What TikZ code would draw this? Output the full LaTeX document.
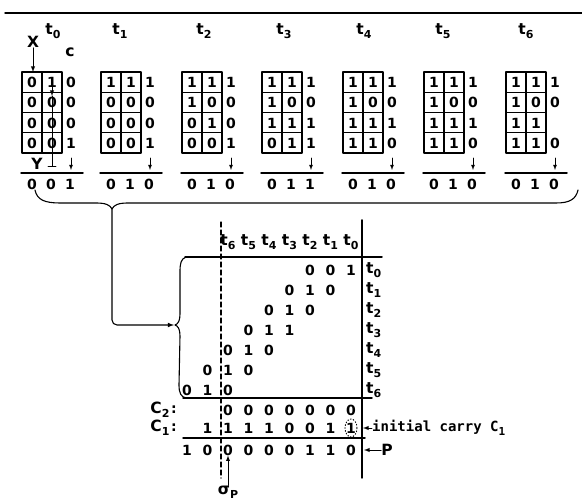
\documentclass[tikz,border=0pt]{standalone}
\usepackage{fontspec}
\setmainfont{DejaVu Sans}
\newfontfamily\monofont{DejaVu Sans Mono}
\newcommand\lowsub[1]{\raisebox{-.5ex}{\fontsize{11}{11}\selectfont #1}}

\tikzset{
  bit/.style={inner sep=0pt,font=\bfseries\fontsize{14}{15}\selectfont},
  tlabel/.style={inner sep=0pt,font=\bfseries\fontsize{15.5}{16}\selectfont},
  cell/.style={line width=1.1pt},
  frame/.style={line width=1.7pt},
  rule/.style={line width=1.5pt},
  brace/.style={line width=1.1pt},
}

% one register snapshot: #1 time, #2 left edge, #3 label x, #4 rows, #5-#7 result
\newcommand\regblock[7]{%
  \node[tlabel] (t#1) at (#3,31) {t\lowsub{#1}};
  \draw[cell] (#2+20,72) -- (#2+20,153);
  \foreach \yy in {92.25,112.5,132.75} \draw[cell] (#2,\yy) -- (#2+40,\yy);
  \draw[frame] (#2,72) rectangle (#2+40,153);
  \foreach \a/\b/\c [count=\r from 0] in {#4} {
    \node[bit] (g#1-\r-a) at (#2+10,82.5+20.25*\r) {\a};
    \node[bit] (g#1-\r-b) at (#2+30,82.5+20.25*\r) {\b};
    \node[bit] (g#1-\r-c) at (#2+49,82.5+20.25*\r) {\c};
  }
  \coordinate (cin#1) at (#2+49,158);
  \coordinate (cout#1) at (#2+49,170);
  \draw[line width=0.8pt,->] (cin#1) -- (cout#1);
  \draw[rule] (#2-1,173) -- (#2+61,173);
  \node[bit] (r#1-a) at (#2+10,184) {#5};
  \node[bit] (r#1-b) at (#2+29,184) {#6};
  \node[bit] (r#1-c) at (#2+48,184) {#7};
}

\begin{document}
\begin{tikzpicture}[x=1pt,y=-1pt,line cap=round,line join=round,>=latex]
  \useasboundingbox (0,0) rectangle (582,502);
  \draw[rule] (5,13) -- (582,13);

  \regblock{0}{22}{53}{0/1/0,0/0/0,0/0/0,0/0/1}{0}{0}{1}
  \regblock{1}{101}{120}{1/1/1,0/0/0,0/0/0,0/0/1}{0}{1}{0}
  \regblock{2}{182}{204}{1/1/1,1/0/0,0/1/0,0/0/1}{0}{1}{0}
  \regblock{3}{262}{284}{1/1/1,1/0/0,1/1/1,0/1/1}{0}{1}{1}
  \regblock{4}{343}{364}{1/1/1,1/0/0,1/1/1,1/1/0}{0}{1}{0}
  \regblock{5}{424}{443}{1/1/1,1/0/0,1/1/1,1/1/0}{0}{1}{0}
  \regblock{6}{506}{526}{1/1/1,1/0/0,1/1/{},1/1/0}{0}{1}{0}

  % inputs of the first snapshot
  \node[tlabel] (xlbl) at (33,42) {X};
  \node[tlabel] (clbl) at (70,52) {c};
  \node[tlabel] (ylbl) at (37,164) {Y};
  \coordinate (xin) at (33,72);
  \draw[line width=0.9pt,->] (xlbl.south) -- (xin);
  \draw[line width=0.9pt,->] (52,80) -- (52,96);
  \draw[line width=0.9pt] (52,96) -- (52,166);
  \draw[line width=0.9pt] (48,166) -- (56,166);

  % brace over the results
  \coordinate (btip) at (112,209);
  \draw[brace] (35,190) .. controls (37,200) and (45,203) .. (60,203) -- (96,203)
    .. controls (106,203) and (110,205) .. (btip)
    .. controls (114,205) and (118,203) .. (128,203) -- (556,203)
    .. controls (570,203) and (576,199) .. (578,190);
  \coordinate (ltip) at (174,325);
  \draw[brace,->,rounded corners=5pt] (btip) |- (ltip);

  % partial product table
  \draw[brace] (186,257) .. controls (181,259) and (180,263) .. (180,272) -- (180,314)
    .. controls (180,321) and (178,324) .. (175,325)
    .. controls (178,326) and (180,329) .. (180,336) -- (179,385)
    .. controls (179,393) and (181,397) .. (186,398);
  \draw[rule] (185,257) -- (382,257);
  \draw[line width=1.2pt,dash pattern=on 5pt off 3pt] (221,222) -- (221,478);
  \draw[rule] (362,220) -- (362,478);
  \draw[rule] (183,398) -- (372,398);
  \draw[rule] (183,438) -- (365,438);

  \foreach \k in {0,...,6}
    \node[tlabel] (ht\k) at ({351-20.5*\k},242) {t\lowsub{\k}};
  \foreach \a/\b/\c [count=\k from 0] in {0/0/1,0/1/0,0/1/0,0/1/1,0/1/0,0/1/0,0/1/0} {
    \node[bit] (s\k-a) at ({351-20.5*(\k+2)},270+20*\k) {\a};
    \node[bit] (s\k-b) at ({351-20.5*(\k+1)},270+20*\k) {\b};
    \node[bit] (s\k-c) at ({351-20.5*\k},270+20*\k) {\c};
    \node[tlabel,anchor=west] (rt\k) at (366,270+20*\k) {t\lowsub{\k}};
  }

  % carries and product
  \node[tlabel] (ctwolbl) at (160,410) {C\lowsub{2}};
  \node[bit] (ctwocol) at (174,410) {:};
  \node[tlabel] (conelbl) at (160,428) {C\lowsub{1}};
  \node[bit] (conecol) at (174,428) {:};
  \foreach \k in {0,...,6}
    \node[bit] (ctwo\k) at ({351-20.5*\k},410) {0};
  \foreach \v [count=\k from 0] in {1,1,0,0,1,1,1,1}
    \node[bit] (cone\k) at ({351-20.5*\k},428) {\v};
  \foreach \v [count=\k from 0] in {0,1,1,0,0,0,0,0,1}
    \node[bit] (p\k) at ({351-20.5*\k},450) {\v};
  \draw[line width=0.9pt,dotted] (cone0) ellipse [x radius=6pt,y radius=9pt];

  \node[anchor=west,inner sep=0pt,font=\monofont\bfseries\fontsize{14}{15}\selectfont] (init) at (372,428) {initial carry C\lowsub{1}};
  \coordinate (cinit) at (363,428);
  \draw[line width=0.9pt,->] (init.west) -- (cinit);
  \node[tlabel] (plbl) at (387,450) {P};
  \coordinate (pin) at (364,450);
  \draw[line width=0.9pt,->] (plbl.west) -- (pin);
  \node[tlabel] (sig) at (228,492) {σ\lowsub{P}};
  \draw[line width=0.9pt,->] (sig.north) -- (p6.south);
\end{tikzpicture}
\end{document}
